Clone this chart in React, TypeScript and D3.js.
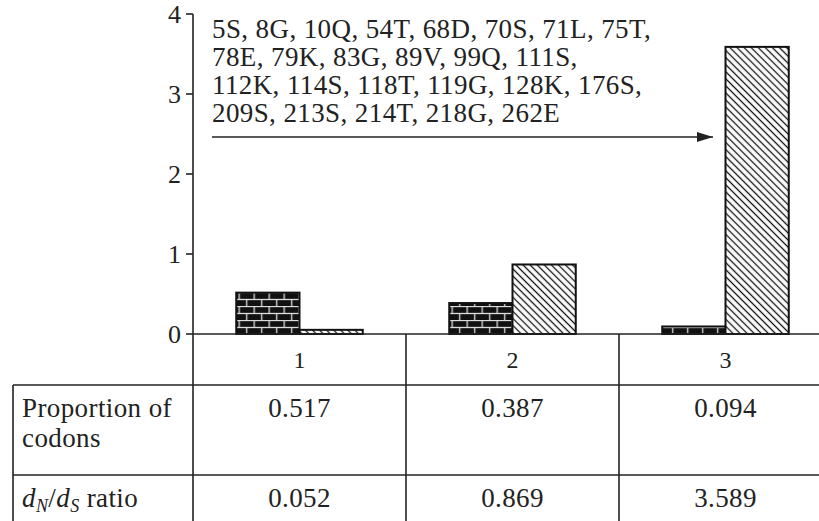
import React from "react";
import * as d3 from "d3";

const categories = ["1", "2", "3"];
const proportion = [0.517, 0.387, 0.094];
const ratio = [0.052, 0.869, 3.589];
const yTicks = [0, 1, 2, 3, 4];
const proportionLabels = ["0.517", "0.387", "0.094"];
const ratioLabels = ["0.052", "0.869", "3.589"];
const annotationLines = [
  "5S, 8G, 10Q, 54T, 68D, 70S, 71L, 75T,",
  "78E, 79K, 83G, 89V, 99Q, 111S,",
  "112K, 114S, 118T, 119G, 128K, 176S,",
  "209S, 213S, 214T, 218G, 262E",
];

const W = 819;
const H = 521;
const FONT = "Liberation Serif, Times New Roman, serif";
const INK = "#222";
const LS = 0.4;

export default function App() {
  const x = d3.scaleBand<string>().domain(categories).range([193, 832]).padding(0);
  const y = d3.scaleLinear().domain([0, 4]).range([334, 14]);
  const bw = x.bandwidth() * 0.297;
  const y0 = y(0);
  const tableTop = 385;
  const rowLine = 475;
  const leftX = 13;

  return (
    <svg
      width={W}
      height={H}
      style={{ position: "absolute", left: 0, top: 0, background: "#fff", fontFamily: FONT }}
    >
      <defs>
        {categories.map((c, i) => {
          const cx = (x(c) as number) + x.bandwidth() / 2;
          return (
            <pattern
              key={c}
              id={`brick${i}`}
              patternUnits="userSpaceOnUse"
              x={cx - bw}
              y={y0}
              width={15}
              height={14}
            >
              <rect x={0} y={0} width={15} height={14} fill="#111" />
              <line x1={0} x2={15} y1={0.5} y2={0.5} stroke="#ddd" strokeWidth={1.3} />
              <line x1={0} x2={15} y1={7.5} y2={7.5} stroke="#ddd" strokeWidth={1.3} />
              <line x1={3} x2={3} y1={0} y2={7} stroke="#ddd" strokeWidth={1.3} />
              <line x1={10.5} x2={10.5} y1={7} y2={14} stroke="#ddd" strokeWidth={1.3} />
            </pattern>
          );
        })}
        <pattern
          id="hatch"
          patternUnits="userSpaceOnUse"
          width={5}
          height={5}
          patternTransform="rotate(45)"
        >
          <rect x={0} y={0} width={5} height={5} fill="#fff" />
          <line x1={0} x2={5} y1={2.5} y2={2.5} stroke="#111" strokeWidth={1.3} />
        </pattern>
        <marker
          id="arrowhead"
          viewBox="0 0 16 10"
          refX={16}
          refY={5}
          markerUnits="userSpaceOnUse"
          markerWidth={16}
          markerHeight={10}
          orient="auto"
        >
          <path d="M0,0 L16,5 L0,10 Z" fill={INK} />
        </marker>
      </defs>

      {/* Annotation text */}
      {annotationLines.map((t, i) => (
        <text key={i} x={212} y={38 + i * 28} fontSize={27} letterSpacing={LS} fill={INK}>
          {t}
        </text>
      ))}
      <line x1={212} x2={713} y1={137} y2={137} stroke={INK} strokeWidth={1.6} markerEnd="url(#arrowhead)" />

      {/* Bars */}
      {categories.map((c, i) => {
        const cx = (x(c) as number) + x.bandwidth() / 2;
        return (
          <g key={c}>
            <rect
              x={cx - bw}
              y={y(proportion[i])}
              width={bw}
              height={y0 - y(proportion[i])}
              fill={`url(#brick${i})`}
              stroke="#111"
              strokeWidth={2}
            />
            <rect
              x={cx}
              y={y(ratio[i])}
              width={bw}
              height={y0 - y(ratio[i])}
              fill="url(#hatch)"
              stroke="#111"
              strokeWidth={2}
            />
          </g>
        );
      })}

      {/* Y axis */}
      <line x1={193} x2={193} y1={y(4)} y2={H} stroke={INK} strokeWidth={1.6} />
      {yTicks.map((t) => (
        <g key={t}>
          <line x1={186} x2={193} y1={y(t)} y2={y(t)} stroke={INK} strokeWidth={1.6} />
          <text x={181} y={y(t)} dy="0.35em" textAnchor="end" fontSize={26} fill={INK}>
            {t}
          </text>
        </g>
      ))}
      {/* X axis line */}
      <line x1={193} x2={W} y1={y0} y2={y0} stroke={INK} strokeWidth={1.6} />

      {/* Table */}
      <line x1={leftX} x2={W} y1={tableTop} y2={tableTop} stroke={INK} strokeWidth={1.6} />
      <line x1={leftX} x2={W} y1={rowLine} y2={rowLine} stroke={INK} strokeWidth={1.6} />
      <line x1={leftX} x2={leftX} y1={tableTop} y2={H} stroke={INK} strokeWidth={1.6} />
      {categories.slice(1).map((c) => (
        <line
          key={c}
          x1={x(c) as number}
          x2={x(c) as number}
          y1={y0}
          y2={H}
          stroke={INK}
          strokeWidth={1.6}
        />
      ))}
      {categories.map((c, i) => {
        const cx = (x(c) as number) + x.bandwidth() / 2;
        return (
          <g key={c} fontSize={24} fill={INK} textAnchor="middle">
            <text x={cx} y={368}>{c}</text>
            <text x={cx} y={417} fontSize={27} letterSpacing={LS}>{proportionLabels[i]}</text>
            <text x={cx} y={507} fontSize={27} letterSpacing={LS}>{ratioLabels[i]}</text>
          </g>
        );
      })}
      <text x={22} y={417} fontSize={27} letterSpacing={LS} fill={INK}>Proportion of</text>
      <text x={22} y={447} fontSize={27} letterSpacing={LS} fill={INK}>codons</text>
      <text x={22} y={507} fontSize={27} letterSpacing={LS} fill={INK}>
        <tspan fontStyle="italic">d</tspan>
        <tspan fontStyle="italic" fontSize={18} dy={5}>N</tspan>
        <tspan dy={-5}>/</tspan>
        <tspan fontStyle="italic">d</tspan>
        <tspan fontStyle="italic" fontSize={18} dy={5}>S</tspan>
        <tspan dy={-5}> ratio</tspan>
      </text>
    </svg>
  );
}
